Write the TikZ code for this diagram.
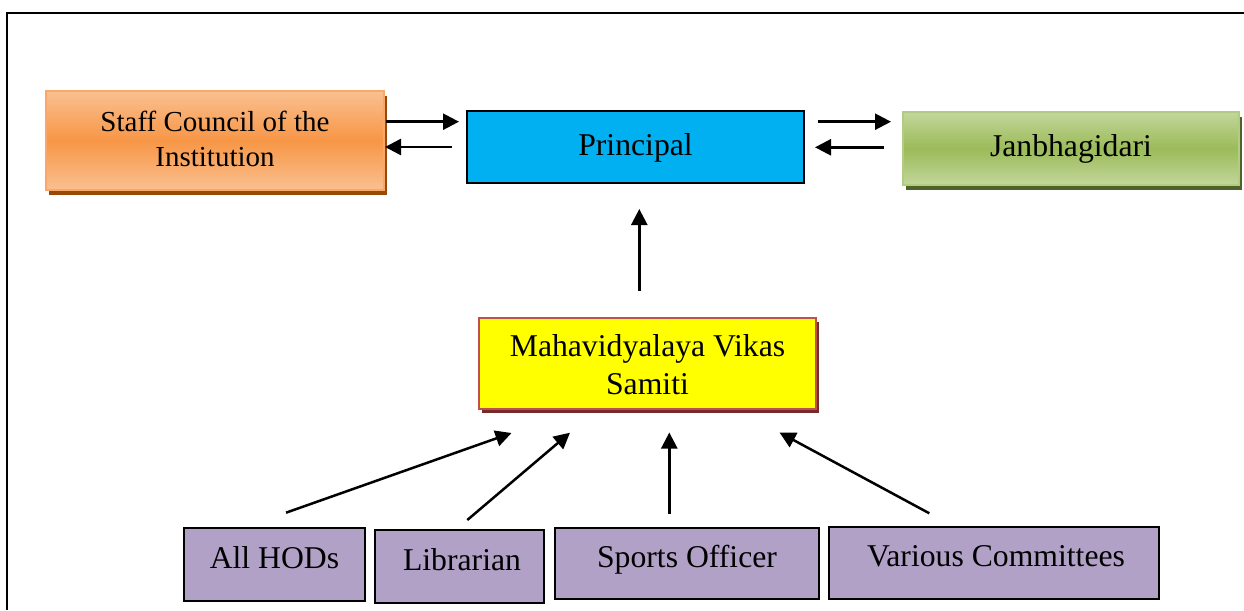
\documentclass[tikz,border=0pt]{standalone}
\usepackage{fontspec}
\setmainfont{Liberation Serif}
\usetikzlibrary{arrows.meta,shadows}
\definecolor{orC}{HTML}{F79646}
\definecolor{orL}{HTML}{FAC090}
\definecolor{orB}{HTML}{F9A86A}
\definecolor{orS}{HTML}{984807}
\definecolor{grC}{HTML}{9BBB59}
\definecolor{grL}{HTML}{C3D69B}
\definecolor{grB}{HTML}{B3CC85}
\definecolor{grS}{HTML}{4F6228}
\definecolor{blC}{HTML}{00B0F0}
\definecolor{yeF}{HTML}{FFFF00}
\definecolor{yeB}{HTML}{C0504D}
\definecolor{yeS}{HTML}{772B29}
\definecolor{lav}{HTML}{B2A1C7}
\tikzset{
  boxbase/.style={rectangle, inner sep=0pt, anchor=center},
  txt/.style={inner sep=0pt, font=\fontsize{31.7}{38}\selectfont, align=center},
  arr/.style={line width=2.5pt, -{Triangle[length=16pt,width=16pt]}},
  lowbox/.style={boxbase, draw=black, line width=2pt, fill=lav},
}
\begin{document}
\begin{tikzpicture}[x=1pt,y=-1pt]
\useasboundingbox (0,0) rectangle (1244,610);
% frame
\draw[line width=1.6pt] (7,610) -- (7,13) -- (1244,13);

% top boxes
\node[boxbase, minimum width=338pt, minimum height=99pt, draw=orB, line width=1.2pt,
  top color=orL, bottom color=orL, middle color=orC,
  drop shadow={shadow xshift=3pt, shadow yshift=-5pt, fill=orS, opacity=1}]
  (staff) at (215,140.5) {};
\node[txt, font=\fontsize{29}{35}\selectfont] (staffT) at (215,139.3) {Staff Council of the\\Institution};

\node[boxbase, minimum width=337pt, minimum height=72pt, draw=black, line width=1.5pt, fill=blC]
  (prin) at (635.5,147) {};
\node[txt, anchor=base] (prinT) at (635.5,155) {Principal};

\node[boxbase, minimum width=336pt, minimum height=73pt, draw=grB, line width=1.2pt,
  top color=grL, bottom color=grL, middle color=grC,
  drop shadow={shadow xshift=3pt, shadow yshift=-5pt, fill=grS, opacity=1}]
  (jan) at (1071,148.5) {};
\node[txt, anchor=base] (janT) at (1071,156.7) {Janbhagidari};

\node[boxbase, minimum width=337pt, minimum height=91pt, draw=yeB, line width=2pt, fill=yeF,
  drop shadow={shadow xshift=3pt, shadow yshift=-4pt, fill=yeS, opacity=1}]
  (mvs) at (647.5,363.5) {};
\node[txt] (mvsT) at (647.5,364.8) {Mahavidyalaya Vikas\\Samiti};

% bottom boxes
\node[lowbox, minimum width=181pt, minimum height=73pt] (hod) at (274.5,564.5) {};
\node[txt, anchor=base] (hodT) at (274.5,568) {All HODs};
\node[lowbox, minimum width=169pt, minimum height=73pt] (lib) at (459.5,566.5) {};
\node[txt, anchor=base] (libT) at (462,570.5) {Librarian};
\node[lowbox, minimum width=264pt, minimum height=71pt] (spo) at (687,563.5) {};
\node[txt, anchor=base] (spoT) at (687,567) {Sports Officer};
\node[lowbox, minimum width=330pt, minimum height=72pt] (com) at (994,563) {};
\node[txt, anchor=base] (comT) at (996,566) {Various Committees};

% connector end points
\coordinate (s1a) at (386,121.7);  \coordinate (s1b) at (459,121.7);
\coordinate (s2a) at (452,147);    \coordinate (s2b) at (385,147);
\coordinate (j1a) at (818,121.7);  \coordinate (j1b) at (891,121.7);
\coordinate (j2a) at (884,147.3);  \coordinate (j2b) at (815,147.3);
\coordinate (m1a) at (639.3,291);  \coordinate (m1b) at (639.3,209);
\coordinate (h1a) at (286,512.7);  \coordinate (h1b) at (511.5,433);
\coordinate (l1a) at (467.3,520);  \coordinate (l1b) at (570,432.7);
\coordinate (p1a) at (669.3,514);  \coordinate (p1b) at (669.3,432.5);
\coordinate (c1a) at (929.3,513.3);\coordinate (c1b) at (779.5,432.5);

\draw[arr] (s1a) -- (s1b);
\draw[arr] (s2a) -- (s2b);
\draw[arr] (j1a) -- (j1b);
\draw[arr] (j2a) -- (j2b);
\draw[arr] (m1a) -- (m1b);
\draw[arr] (h1a) -- (h1b);
\draw[arr] (l1a) -- (l1b);
\draw[arr] (p1a) -- (p1b);
\draw[arr] (c1a) -- (c1b);
\end{tikzpicture}
\end{document}
